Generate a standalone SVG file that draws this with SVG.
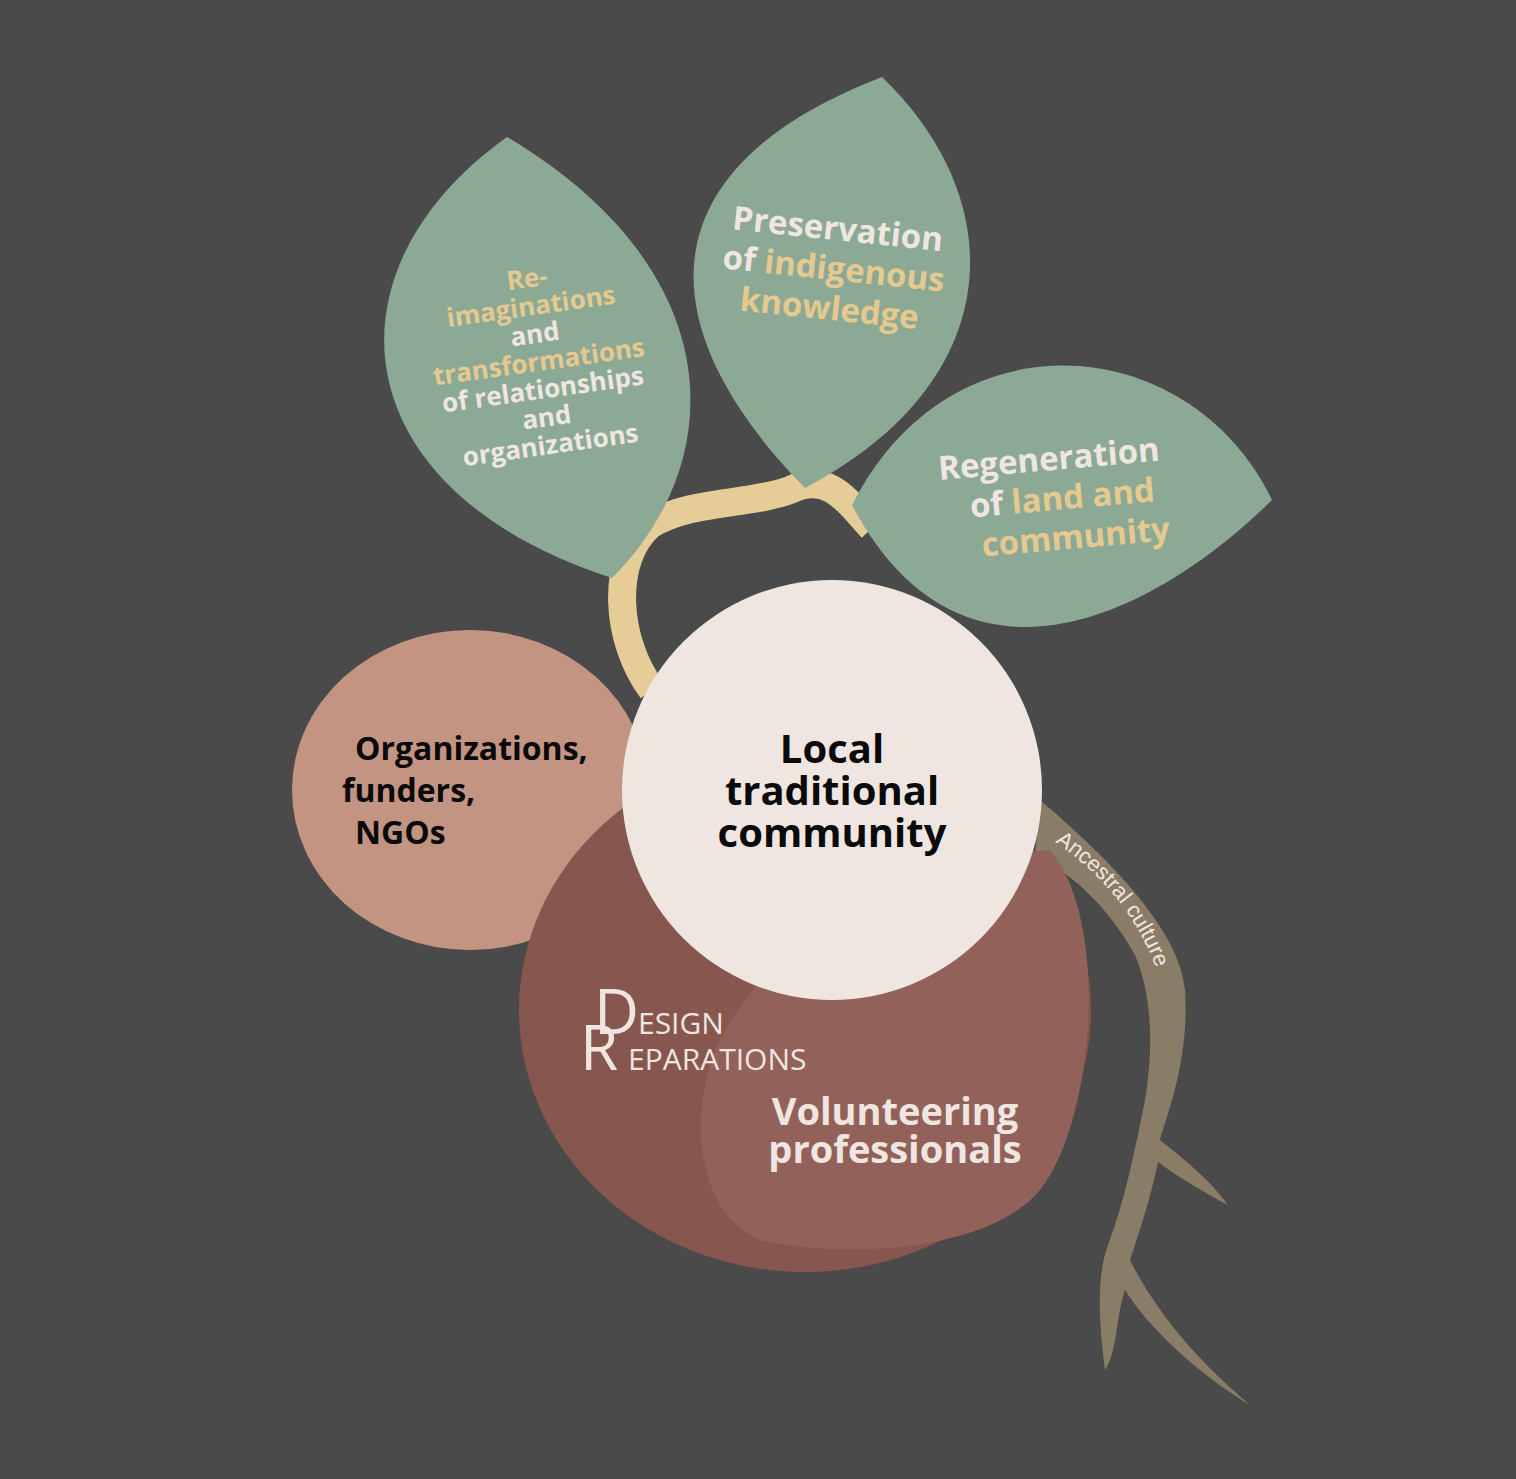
<svg xmlns="http://www.w3.org/2000/svg" width="1516" height="1479" viewBox="0 0 1516 1479">
<style>
.leaf{fill:#8ca996}
.t{font-family:"Open Sans",sans-serif;font-weight:bold;text-anchor:middle}
.w{fill:#efe6e1}.y{fill:#e6c98f}.k{fill:#0a0a0a}
</style>
<rect width="1516" height="1479" fill="#4a4a4a"/>
<g id="connectors">
<path d="M652,690 C615,640 610,560 650,525 C690,500 750,505 790,490 C830,470 850,505 872,528" fill="none" stroke="#e6cc96" stroke-width="28"/>
<path id="root" d="M1040,800 C1110,860 1180,930 1185,990 C1190,1060 1165,1120 1160,1140 C1185,1160 1210,1180 1228,1205 C1200,1190 1175,1175 1158,1162 C1150,1200 1140,1230 1130,1260 C1150,1300 1185,1350 1250,1405 C1200,1375 1150,1330 1125,1290 C1115,1320 1118,1350 1105,1370 C1100,1330 1095,1280 1108,1245 C1125,1200 1135,1150 1145,1100 C1155,1040 1150,990 1135,955 C1110,910 1075,875 1035,855 Z" fill="#8a7d68"/>
<path id="rp" d="M1055,842 C1110,880 1155,935 1168,1015" fill="none"/>
<text font-family="Liberation Sans,sans-serif" font-size="22" fill="#efe6e1"><textPath href="#rp">Ancestral culture</textPath></text>
</g>
<g id="leaf1">
<path class="leaf" d="M507,137 C320,270 340,490 612,578 C730,460 730,270 507,137 Z"/>
<g transform="rotate(-8 545 370)" class="t" font-size="26">
<text x="540" y="286" class="y">Re-</text>
<text x="540" y="314" class="y">imaginations</text>
<text x="540" y="342" class="w">and</text>
<text x="540" y="370" class="y">transformations</text>
<text x="540" y="398" class="w">of relationships</text>
<text x="540" y="426" class="w">and</text>
<text x="540" y="454" class="w">organizations</text>
</g>
</g>
<g id="leaf2">
<path class="leaf" d="M882,77 C640,170 650,330 805,488 C1010,380 1010,200 882,77 Z"/>
<g transform="rotate(6 833 275)" class="t" font-size="33">
<text x="833" y="240" class="w">Preservation</text>
<text x="833" y="280"><tspan class="w">of </tspan><tspan class="y">indigenous</tspan></text>
<text x="833" y="320" class="y">knowledge</text>
</g>
</g>
<g id="leaf3">
<path class="leaf" d="M852,505 C950,310 1190,330 1272,500 C1150,620 960,710 852,505 Z"/>
<g transform="rotate(-5 1055 495)" class="t" font-size="33">
<text x="1052" y="470" class="w">Regeneration</text>
<text x="1062" y="510"><tspan class="w">of </tspan><tspan class="y">land and</tspan></text>
<text x="1072" y="550" class="y">community</text>
</g>
</g>
<g id="orgs">
<ellipse cx="470" cy="790" rx="178" ry="160" fill="#c49482"/>
<text class="t k" font-size="32" style="text-anchor:start"><tspan x="355" y="760">Organizations,</tspan><tspan x="342" y="802">funders,</tspan><tspan x="355" y="844">NGOs</tspan></text>
</g>
<g id="volunteers">
<ellipse cx="805" cy="1010" rx="286" ry="262" fill="#87574f"/>
<path d="M1050,850 C1110,920 1095,1120 1040,1190 C990,1250 850,1260 760,1240 C690,1210 690,1100 720,1040 C770,940 900,860 1050,850 Z" fill="#92625a"/>
<text class="t w" font-size="38"><tspan x="895" y="1125">Volunteering</tspan><tspan x="895" y="1163">professionals</tspan></text>
<g font-family="Open Sans,sans-serif" fill="#efe6e1">
<text x="594" y="1034" font-size="62">D</text>
<text x="638" y="1034" font-size="30">ESIGN</text>
<text x="580" y="1070" font-size="62">R</text>
<text x="628" y="1070" font-size="30">EPARATIONS</text>
</g>
</g>
<g id="community">
<circle cx="832" cy="790" r="210" fill="#efe6e1"/>
<text class="t k" font-size="40"><tspan x="832" y="763">Local</tspan><tspan x="832" y="805">traditional</tspan><tspan x="832" y="847">community</tspan></text>
</g>
</svg>
